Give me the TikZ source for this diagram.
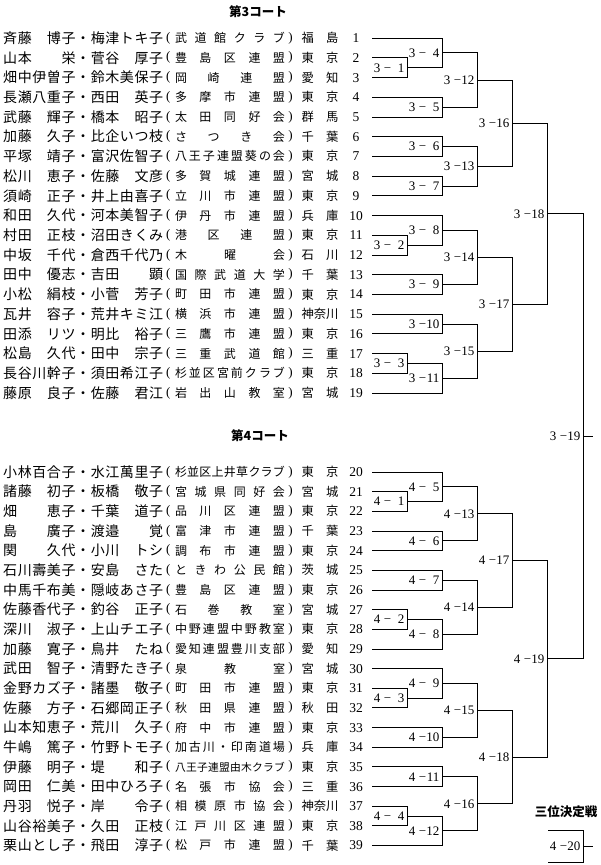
\documentclass[tikz,border=0pt]{standalone}
\usepackage{fontspec}
\setmainfont{Liberation Serif}
\newfontfamily\cjk{Noto Sans CJK JP}
\usetikzlibrary{calc}
\makeatletter
\newcommand\spr[1]{\def\spr@sep{}\@tfor\spr@ch:=#1\do{\spr@sep\spr@ch\def\spr@sep{\hfill}}}
\makeatother
\newcommand\Z{\hbox to 1em{}}
\newcommand\lb[2]{#1\hspace{3.5pt}\char"2212\makebox[13pt][r]{#2}}
\begin{document}
\begin{tikzpicture}[x=1pt,y=-1pt,
  ln/.style={draw=black, line width=0.65pt},
  nm/.style={anchor=west, inner sep=0pt, font=\cjk\fontsize{14}{14}\selectfont, text height=12.3pt, text depth=1.7pt},
  cl/.style={anchor=center, inner sep=0pt, font=\cjk, text height=10.6pt, text depth=1.4pt},
  pf/.style={anchor=center, inner sep=0pt, font=\cjk\fontsize{12.3}{12.3}\selectfont, text height=10.8pt, text depth=1.5pt},
  paren/.style={anchor=west, inner sep=0pt, font=\fontsize{13}{13}\selectfont},
  no/.style={anchor=center, inner sep=0pt, font=\fontsize{13.5}{13.5}\selectfont, text height=9.2pt, text depth=0pt},
  lbl/.style={anchor=east, inner sep=0pt, xshift=-2.5pt, font=\fontsize{13}{13}\selectfont, text height=8.9pt, text depth=0pt},
  ttl/.style={anchor=center, inner sep=0pt, font=\cjk\bfseries\fontsize{12.5}{12.5}\selectfont}
]
\path[fill=white] (0,0) rectangle (600,865);
\useasboundingbox (0,0) rectangle (600,865);

\newcommand\entry[5][12]{%
  \pgfmathsetmacro\yy{#2<20 ? 38+(#2-1)*19.72 : 472+(#2-20)*19.65}%
  \node[nm] (nm#2) at (3,\yy) {\hbox to 160pt{\spr{#3}}};
  \node[paren] (lp#2) at (166,\yy) {(};
  \node[cl] (cl#2) at (230,\yy) {\fontsize{#1}{#1}\selectfont\hbox to 110pt{\spr{#4}}};
  \node[paren,anchor=east] (rp#2) at (293,\yy) {)};
  \node[pf] (pf#2) at (320,\yy) {\hbox to 37pt{\spr{#5}}};
  \node[no] (no#2) at (356,\yy) {#2};
  \coordinate (p#2) at (372,\yy);
}
\newcommand\match[5]{%
  \coordinate (#1h) at ($(#2)!0.5!(#3)$);
  \coordinate (#1) at (#4 |- #1h);
  \draw[ln] (#2) -- (#2 -| #1) -- (#3 -| #1) -- (#3);
  \node[lbl] (#1l) at (#1) {#5};
}

\coordinate (X1) at (407,0);
\coordinate (X2) at (442,0);
\coordinate (X3) at (477,0);
\coordinate (X4) at (512,0);
\coordinate (X5) at (547,0);
\coordinate (X6) at (583,0);
\coordinate (S) at (593,0);

\node[ttl] (t3) at (258,12) {第3コート};
\node[ttl] (t4) at (260,436) {第4コート};
\node[ttl] (t3rd) at (566,812) {三位決定戦};

\entry{1}{斉藤\Z 博子・梅津トキ子}{武道館クラブ}{福島}
\entry{2}{山本\Z\Z 栄・菅谷\Z 厚子}{豊島区連盟}{東京}
\entry{3}{畑中伊曽子・鈴木美保子}{岡崎連盟}{愛知}
\entry{4}{長瀬八重子・西田\Z 英子}{多摩市連盟}{東京}
\entry{5}{武藤\Z 輝子・橋本\Z 昭子}{太田同好会}{群馬}
\entry{6}{加藤\Z 久子・比企いつ枝}{さつき会}{千葉}
\entry{7}{平塚\Z 靖子・富沢佐智子}{八王子連盟葵の会}{東京}
\entry{8}{松川\Z 恵子・佐藤\Z 文彦}{多賀城連盟}{宮城}
\entry{9}{須崎\Z 正子・井上由喜子}{立川市連盟}{東京}
\entry{10}{和田\Z 久代・河本美智子}{伊丹市連盟}{兵庫}
\entry{11}{村田\Z 正枝・沼田きくみ}{港区連盟}{東京}
\entry{12}{中坂\Z 千代・倉西千代乃}{木曜会}{石川}
\entry{13}{田中\Z 優志・吉田\Z\Z 顕}{国際武道大学}{千葉}
\entry{14}{小松\Z 絹枝・小菅\Z 芳子}{町田市連盟}{東京}
\entry{15}{瓦井\Z 容子・荒井キミ江}{横浜市連盟}{神奈川}
\entry{16}{田添\Z リツ・明比\Z 裕子}{三鷹市連盟}{東京}
\entry{17}{松島\Z 久代・田中\Z 宗子}{三重武道館}{三重}
\entry{18}{長谷川幹子・須田希江子}{杉並区宮前クラブ}{東京}
\entry{19}{藤原\Z 良子・佐藤\Z 君江}{岩出山教室}{宮城}
\entry{20}{小林百合子・水江萬里子}{杉並区上井草クラブ}{東京}
\entry{21}{諸藤\Z 初子・板橋\Z 敬子}{宮城県同好会}{宮城}
\entry{22}{畑\Z\Z 恵子・千葉\Z 道子}{品川区連盟}{東京}
\entry{23}{島\Z\Z 廣子・渡邉\Z\Z 覚}{富津市連盟}{千葉}
\entry{24}{関\Z\Z 久代・小川\Z トシ}{調布市連盟}{東京}
\entry{25}{石川壽美子・安島\Z さた}{ときわ公民館}{茨城}
\entry{26}{中馬千布美・隠岐あさ子}{豊島区連盟}{東京}
\entry{27}{佐藤香代子・釣谷\Z 正子}{石巻教室}{宮城}
\entry{28}{深川\Z 淑子・上山チエ子}{中野連盟中野教室}{東京}
\entry{29}{加藤\Z 寛子・鳥井\Z たね}{愛知連盟豊川支部}{愛知}
\entry{30}{武田\Z 智子・清野たき子}{泉教室}{宮城}
\entry{31}{金野カズ子・諸墨\Z 敬子}{町田市連盟}{東京}
\entry{32}{佐藤\Z 方子・石郷岡正子}{秋田県連盟}{秋田}
\entry{33}{山本知恵子・荒川\Z 久子}{府中市連盟}{東京}
\entry{34}{牛嶋\Z 篤子・竹野トモ子}{加古川・印南道場}{兵庫}
\entry[10.8]{35}{伊藤\Z 明子・堤\Z\Z 和子}{八王子連盟由木クラブ}{東京}
\entry{36}{岡田\Z 仁美・田中ひろ子}{名張市協会}{三重}
\entry{37}{丹羽\Z 悦子・岸\Z\Z 令子}{相模原市協会}{神奈川}
\entry{38}{山谷裕美子・久田\Z 正枝}{江戸川区連盟}{東京}
\entry{39}{栗山とし子・飛田\Z 淳子}{松戸市連盟}{千葉}

% court 3
\match{m31}{p2}{p3}{X1}{\lb{3}{1}}
\match{m34}{p1}{m31}{X2}{\lb{3}{4}}
\match{m35}{p4}{p5}{X2}{\lb{3}{5}}
\match{m312}{m34}{m35}{X3}{\lb{3}{12}}
\match{m36}{p6}{p7}{X2}{\lb{3}{6}}
\match{m37}{p8}{p9}{X2}{\lb{3}{7}}
\match{m313}{m36}{m37}{X3}{\lb{3}{13}}
\match{m316}{m312}{m313}{X4}{\lb{3}{16}}
\match{m32}{p11}{p12}{X1}{\lb{3}{2}}
\match{m38}{p10}{m32}{X2}{\lb{3}{8}}
\match{m39}{p13}{p14}{X2}{\lb{3}{9}}
\match{m314}{m38}{m39}{X3}{\lb{3}{14}}
\match{m310}{p15}{p16}{X2}{\lb{3}{10}}
\match{m33}{p17}{p18}{X1}{\lb{3}{3}}
\match{m311}{m33}{p19}{X2}{\lb{3}{11}}
\match{m315}{m310}{m311}{X3}{\lb{3}{15}}
\match{m317}{m314}{m315}{X4}{\lb{3}{17}}
\match{m318}{m316}{m317}{X5}{\lb{3}{18}}
% court 4
\match{m41}{p21}{p22}{X1}{\lb{4}{1}}
\match{m45}{p20}{m41}{X2}{\lb{4}{5}}
\match{m46}{p23}{p24}{X2}{\lb{4}{6}}
\match{m413}{m45}{m46}{X3}{\lb{4}{13}}
\match{m47}{p25}{p26}{X2}{\lb{4}{7}}
\match{m42}{p27}{p28}{X1}{\lb{4}{2}}
\match{m48}{m42}{p29}{X2}{\lb{4}{8}}
\match{m414}{m47}{m48}{X3}{\lb{4}{14}}
\match{m417}{m413}{m414}{X4}{\lb{4}{17}}
\match{m43}{p31}{p32}{X1}{\lb{4}{3}}
\match{m49}{p30}{m43}{X2}{\lb{4}{9}}
\match{m410}{p33}{p34}{X2}{\lb{4}{10}}
\match{m415}{m49}{m410}{X3}{\lb{4}{15}}
\match{m411}{p35}{p36}{X2}{\lb{4}{11}}
\match{m44}{p37}{p38}{X1}{\lb{4}{4}}
\match{m412}{m44}{p39}{X2}{\lb{4}{12}}
\match{m416}{m411}{m412}{X3}{\lb{4}{16}}
\match{m418}{m415}{m416}{X4}{\lb{4}{18}}
\match{m419}{m417}{m418}{X5}{\lb{4}{19}}
% final
\match{fin}{m318}{m419}{X6}{\lb{3}{19}}
\draw[ln] (fin) -- (fin -| S);
% third place
\coordinate (q1) at (548,830);
\coordinate (q2) at (548,862);
\match{m420}{q1}{q2}{X6}{\lb{4}{20}}
\draw[ln] (m420) -- (m420 -| S);
\end{tikzpicture}
\end{document}
